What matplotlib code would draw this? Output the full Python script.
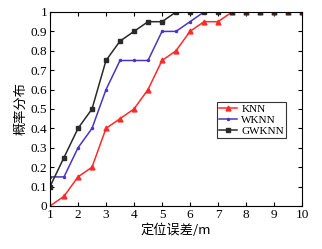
import matplotlib
matplotlib.use('Agg')
import matplotlib.pyplot as plt
from matplotlib.ticker import FuncFormatter

plt.rcParams['font.family'] = ['Liberation Serif', 'Noto Sans CJK SC']
plt.rcParams['axes.unicode_minus'] = False

x = [1, 1.5, 2, 2.5, 3, 3.5, 4, 4.5, 5, 5.5, 6, 6.5, 7, 7.5, 8, 8.5, 9, 9.5, 10]
knn = [0, 0.05, 0.15, 0.2, 0.4, 0.45, 0.5, 0.6, 0.75, 0.8, 0.9, 0.95, 0.95, 1, 1, 1, 1, 1, 1]
wknn = [0.15, 0.15, 0.3, 0.4, 0.6, 0.75, 0.75, 0.75, 0.9, 0.9, 0.95, 1, 1, 1, 1, 1, 1, 1, 1]
gwknn = [0.1, 0.25, 0.4, 0.5, 0.75, 0.85, 0.9, 0.95, 0.95, 1, 1, 1, 1, 1, 1, 1, 1, 1, 1]
labels = ['KNN', 'WKNN', 'GWKNN']

fig = plt.figure(figsize=(3.22, 2.49), dpi=100)
ax = fig.add_axes([50/322, 1 - 206/249, 252/322, 194/249])

ax.plot(x, knn, '-^', color='#ff2a2a', lw=1.1, ms=3.5, label=labels[0])
ax.plot(x, wknn, '-o', color='#4b35c0', lw=1.1, ms=1.5, label=labels[1])
ax.plot(x, gwknn, '-s', color='#2a2a2a', lw=1.1, ms=3.2, label=labels[2])

ax.set_xlim(1, 10)
ax.set_ylim(0, 1)
ax.set_xticks(range(1, 11))
ax.set_yticks([i / 10 for i in range(11)])
ax.yaxis.set_major_formatter(FuncFormatter(lambda v, p: ('%g' % round(v, 1))))
ax.tick_params(direction='in', top=True, right=True, labelsize=9.5, length=3, pad=2)
for s in ax.spines.values():
    s.set_linewidth(0.8)

ax.set_xlabel('定位误差/m', fontsize=9.5, labelpad=2, family=['Noto Sans CJK SC'])
ax.set_ylabel('概率分布', fontsize=9.5, labelpad=2, family=['Noto Sans CJK SC'])

leg = ax.legend(loc='upper left', bbox_to_anchor=(0.64, 0.565), fontsize=8,
                frameon=True, fancybox=False, edgecolor='black',
                handlelength=1.6, borderpad=0.2, labelspacing=0.1, handletextpad=0.4)
leg.get_frame().set_linewidth(0.8)

fig.savefig('out.png', dpi=100)
